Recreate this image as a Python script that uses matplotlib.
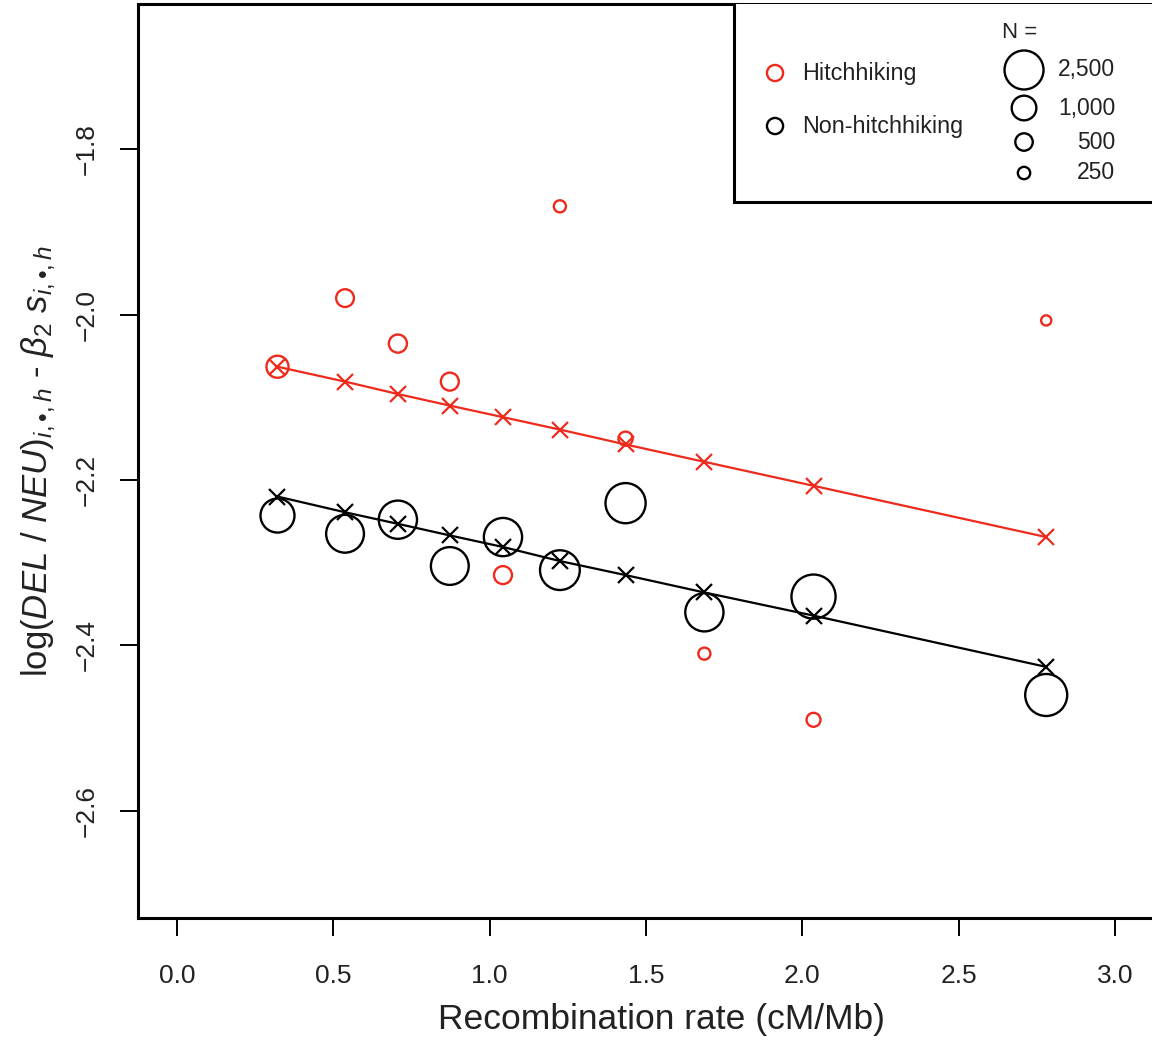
import matplotlib
matplotlib.use("Agg")
import matplotlib.pyplot as plt
from matplotlib.patches import Rectangle
import numpy as np

plt.rcParams['font.family'] = ['Liberation Sans', 'DejaVu Sans']
plt.rcParams['mathtext.fontset'] = 'custom'
plt.rcParams['mathtext.rm'] = 'Liberation Sans'
plt.rcParams['mathtext.it'] = 'Liberation Sans:italic'
plt.rcParams['mathtext.bf'] = 'Liberation Sans:bold'

############################ DATA ############################

recomb = [0.322, 0.538, 0.707, 0.873, 1.043, 1.225, 1.435, 1.687, 2.036, 2.780]

# observed values, circle size ~ sqrt(N)
hitch_obs = [-2.063, -1.980, -2.035, -2.081, -2.315, -1.869, -2.150, -2.410, -2.490, -2.007]
hitch_n = [800, 520, 540, 530, 530, 240, 330, 240, 320, 170]
nonhitch_obs = [-2.243, -2.265, -2.248, -2.304, -2.269, -2.309, -2.228, -2.360, -2.341, -2.460]
nonhitch_n = [1900, 2350, 2400, 2350, 2400, 2600, 2650, 2400, 3200, 2900]

# fitted values (crosses on the regression lines)
hitch_fit = [-2.063, -2.081, -2.096, -2.110, -2.124, -2.139, -2.157, -2.178, -2.207, -2.269]
nonhitch_fit = [-2.220, -2.239, -2.253, -2.267, -2.281, -2.298, -2.315, -2.336, -2.364, -2.426]

legend_n = [2500, 1000, 500, 250]
legend_n_labels = ["2,500", "1,000", "500", "250"]

RED = "#EE2A1C"
BLACK = "#000000"
TXT = "#222222"

def area(n):
    # circle radius in px = 0.39*sqrt(N); scatter s is diameter^2 in pt^2
    d_pt = 2 * 0.39 * np.sqrt(np.asarray(n, dtype=float)) * 72 / 100
    return d_pt ** 2

############################ PLOT ############################

fig = plt.figure(figsize=(11.52, 10.41), dpi=100)
# plot region runs past the right edge of the picture (R style 4% padding on 0..3.1)
ax = fig.add_axes([0.1198, 0.11816, 0.9089, 0.878])

ax.scatter(recomb, hitch_obs, s=area(hitch_n), facecolors="none",
           edgecolors=RED, linewidths=1.7, zorder=3)
ax.scatter(recomb, nonhitch_obs, s=area(nonhitch_n), facecolors="none",
           edgecolors=BLACK, linewidths=1.7, zorder=3)

ax.plot(recomb, hitch_fit, color=RED, lw=1.6, marker="x", markersize=11,
        markeredgewidth=1.6, zorder=4)
ax.plot(recomb, nonhitch_fit, color=BLACK, lw=1.6, marker="x", markersize=11,
        markeredgewidth=1.6, zorder=4)

ax.set_xlim(-0.124, 3.224)
ax.set_ylim(-2.7297, -1.6243)

ax.set_xticks([0.0, 0.5, 1.0, 1.5, 2.0, 2.5, 3.0])
ax.set_xticklabels(["0.0", "0.5", "1.0", "1.5", "2.0", "2.5", "3.0"], color=TXT)
ax.set_yticks([-2.6, -2.4, -2.2, -2.0, -1.8])
ax.set_yticklabels(["\u22122.6", "\u22122.4", "\u22122.2", "\u22122.0", "\u22121.8"],
                   rotation=90, va="center", color=TXT)

for sp in ax.spines.values():
    sp.set_linewidth(2.2)
ax.tick_params(axis="both", length=13, width=1.4, labelsize=19, color="black")
ax.tick_params(axis="x", pad=20)
ax.tick_params(axis="y", pad=15)

ax.set_xlabel("Recombination rate (cM/Mb)", fontsize=25.5, color=TXT, labelpad=11)
ax.set_ylabel("log($\\mathit{DEL}$ / $\\mathit{NEU}$)$_{i,\u2022,h}$ - $\\beta_2\\ s_{i,\u2022,h}$",
              fontsize=25, color=TXT, labelpad=12)

# legend box
ax.add_patch(Rectangle((0.5692, 0.7834), 0.6, 0.4, transform=ax.transAxes,
                       facecolor="white", edgecolor="black", lw=2.2, zorder=5))
ax.scatter([0.6084], [0.9245], s=135, facecolors="none", edgecolors=RED,
           linewidths=1.7, transform=ax.transAxes, zorder=6)
ax.scatter([0.6084], [0.8665], s=135, facecolors="none", edgecolors=BLACK,
           linewidths=1.7, transform=ax.transAxes, zorder=6)
ax.text(0.6342, 0.9245, "Hitchhiking", transform=ax.transAxes, fontsize=16.8,
        color=TXT, va="center", ha="left", zorder=6)
ax.text(0.6342, 0.8665, "Non-hitchhiking", transform=ax.transAxes, fontsize=16.8,
        color=TXT, va="center", ha="left", zorder=6)

ax.text(0.8424, 0.9683, "N =", transform=ax.transAxes, fontsize=16,
        color=TXT, va="center", ha="center", zorder=6)
leg_y = [0.9278, 0.8862, 0.8490, 0.8151]
ax.scatter([0.8462] * 4, leg_y, s=area(legend_n), facecolors="none",
           edgecolors=BLACK, linewidths=1.7, transform=ax.transAxes, zorder=6)
for yy, lab in zip(leg_y, legend_n_labels):
    ax.text(0.9332, yy, lab, transform=ax.transAxes, fontsize=16.5,
            color=TXT, va="center", ha="right", zorder=6)

plt.savefig("out.png", dpi=100)
